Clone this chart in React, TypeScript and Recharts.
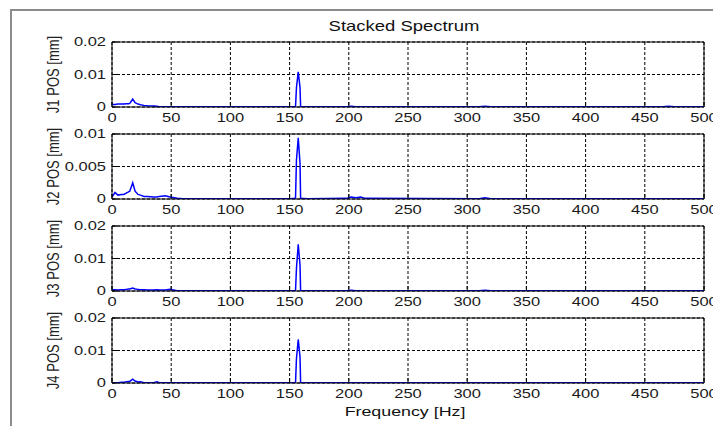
import React from 'react';
import { LineChart, Line, XAxis, YAxis, CartesianGrid, Label } from 'recharts';

const freq = [0, 2.5, 5, 8, 10, 12, 14, 15, 17.5, 19.5, 22, 24, 27, 30, 35, 38, 40, 45, 49, 55, 60, 150, 155, 155.8, 157.3, 158.8, 159.3, 165, 198, 202, 206, 210, 214, 310, 315, 320, 465, 470, 475, 500];

const j1 = [0.0008, 0.0008, 0.0009, 0.0009, 0.0009, 0.001, 0.001, 0.0011, 0.0024, 0.0013, 0.0009, 0.0007, 0.0005, 0.0004, 0.0003, 0.0002, 0.0001, 0.00005, 0.00005, 0.00005, 0.00005, 0.00005, 0.0001, 0.006, 0.0108, 0.006, 0.0001, 0.00005, 0.00005, 0.0002, 0.0001, 0.00005, 0.00005, 0.00005, 0.0002, 0.00005, 0.00005, 0.0002, 0.00005, 0.00005];
const j2 = [0.0003, 0.001, 0.0006, 0.0007, 0.0007, 0.0009, 0.0011, 0.0012, 0.0025, 0.0012, 0.0007, 0.0006, 0.0004, 0.0004, 0.0003, 0.0003, 0.0004, 0.0005, 0.0003, 0.0001, 0.00003, 0.00003, 0.0001, 0.006, 0.0094, 0.0055, 0.0001, 0.00003, 0.0001, 0.0003, 0.0002, 0.0003, 0.0001, 0.00003, 0.0002, 0.00003, 0.00003, 0.00003, 0.00003, 0.00003];
const j3 = [0.0004, 0.0004, 0.0003, 0.0004, 0.0004, 0.0005, 0.0006, 0.0006, 0.0009, 0.0006, 0.0005, 0.0004, 0.0004, 0.0003, 0.0003, 0.0004, 0.0003, 0.0003, 0.0005, 0.00005, 0.00005, 0.00005, 0.0001, 0.007, 0.0144, 0.008, 0.0001, 0.00005, 0.00005, 0.0002, 0.0001, 0.00005, 0.00005, 0.00005, 0.0002, 0.00005, 0.00005, 0.00005, 0.00005, 0.00005];
const j4 = [0.0001, 0.0001, 0.0001, 0.0002, 0.0002, 0.0004, 0.0005, 0.0005, 0.0012, 0.0006, 0.0003, 0.0004, 0.0001, 0.0001, 0.0001, 0.0004, 0.0001, 0.00005, 0.00005, 0.00005, 0.00005, 0.00005, 0.0001, 0.0075, 0.0134, 0.008, 0.0001, 0.00005, 0.00005, 0.00005, 0.00005, 0.00005, 0.00005, 0.00005, 0.00005, 0.00005, 0.00005, 0.00005, 0.00005, 0.00005];

const xTicks = [0, 50, 100, 150, 200, 250, 300, 350, 400, 450, 500];
const yTicksA = [0, 0.01, 0.02];
const yTicksB = [0, 0.005, 0.01];

const labels = ['J1 POS [mm]', 'J2 POS [mm]', 'J3 POS [mm]', 'J4 POS [mm]'];
const series = [j1, j2, j3, j4];
const yMax = [0.02, 0.01, 0.02, 0.02];
const yTicks = [yTicksA, yTicksB, yTicksA, yTicksA];
const titleText = 'Stacked Spectrum';
const xLabelText = 'Frequency [Hz]';

const W = 713;
const H = 426;
const plotTops = [42, 134, 226, 318];
const plotH = 65;
const FONT = '"Liberation Sans", Arial, sans-serif';
const SX = 1.32;

const XTick = (props: any) => {
  const { x, y, payload } = props;
  return (
    <g transform={`translate(${x},${y}) scale(${SX},1)`}>
      <text x={0} y={0} dy="0.71em" textAnchor="middle" fontSize={12.5} fill="#1a1a1a" fontFamily={FONT}>
        {payload.value}
      </text>
    </g>
  );
};

const YTick = (props: any) => {
  const { x, y, payload } = props;
  return (
    <g transform={`translate(${x},${y}) scale(${SX},1)`}>
      <text x={0} y={0} dy="0.355em" textAnchor="end" fontSize={12.5} fill="#1a1a1a" fontFamily={FONT}>
        {String(payload.value)}
      </text>
    </g>
  );
};

const makeYLabel = (text: string) => (props: any) => {
  const vb = props.viewBox;
  const cx = vb.x + 1;
  const cy = vb.y + vb.height / 2;
  return (
    <g transform={`translate(${cx},${cy}) scale(${SX},1) rotate(-90)`}>
      <text x={0} y={0} dy="0.36em" textAnchor="middle" fontSize={13} fill="#222" fontFamily={FONT}>
        {text}
      </text>
    </g>
  );
};

const TitleLabel = (props: any) => {
  const vb = props.viewBox;
  const cx = vb.x + vb.width / 2 - 4;
  return (
    <g transform={`translate(${cx},31) scale(${SX},1)`}>
      <text x={0} y={0} textAnchor="middle" fontSize={14} fill="#111" fontFamily={FONT}>
        {titleText}
      </text>
    </g>
  );
};

const XLabel = (props: any) => {
  const vb = props.viewBox;
  const cx = vb.x + vb.width / 2 - 3;
  return (
    <g transform={`translate(${cx},416) scale(${SX},1)`}>
      <text x={0} y={0} textAnchor="middle" fontSize={13.5} fill="#111" fontFamily={FONT}>
        {xLabelText}
      </text>
    </g>
  );
};

const Panel = ({ idx }: { idx: number }) => {
  const data = freq.map((f, i) => ({ f, v: series[idx][i] }));
  const top = plotTops[idx];
  const bottomMargin = H - (top + plotH) - 30;
  const max = yMax[idx];
  return (
    <div style={{ position: 'absolute', left: 0, top: 0 }}>
      <LineChart width={W} height={H} data={data} margin={{ top: top - 1, right: 8, bottom: bottomMargin, left: 52 }}>
        <CartesianGrid stroke="#000" strokeDasharray="3 2" xAxisId={0} yAxisId={0} />
        <XAxis
          xAxisId={0}
          dataKey="f"
          type="number"
          domain={[0, 500]}
          ticks={xTicks}
          interval={0}
          height={30}
          tickSize={-5}
          tickMargin={11}
          tick={<XTick />}
          axisLine={{ stroke: '#000' }}
          tickLine={{ stroke: '#000' }}
          allowDataOverflow
        >
          {idx === 3 ? <Label content={<XLabel />} /> : null}
        </XAxis>
        <XAxis
          xAxisId="t"
          orientation="top"
          dataKey="f"
          type="number"
          domain={[0, 500]}
          ticks={xTicks}
          interval={0}
          height={1}
          tickSize={-5}
          tick={false}
          axisLine={{ stroke: '#000' }}
          tickLine={{ stroke: '#000' }}
        >
          {idx === 0 ? <Label content={<TitleLabel />} /> : null}
        </XAxis>
        <YAxis
          yAxisId={0}
          type="number"
          domain={[0, max]}
          ticks={yTicks[idx]}
          interval={0}
          width={60}
          tickSize={-5}
          tickMargin={11}
          tick={<YTick />}
          axisLine={{ stroke: '#000' }}
          tickLine={{ stroke: '#000' }}
          allowDataOverflow
        >
          <Label content={makeYLabel(labels[idx])} />
        </YAxis>
        <YAxis
          yAxisId="r"
          orientation="right"
          type="number"
          domain={[0, max]}
          ticks={yTicks[idx]}
          interval={0}
          width={1}
          tickSize={-5}
          tick={false}
          axisLine={{ stroke: '#000' }}
          tickLine={{ stroke: '#000' }}
        />
        <Line
          xAxisId={0}
          yAxisId={0}
          type="linear"
          dataKey="v"
          stroke="#0000ff"
          strokeWidth={1.5}
          dot={false}
          isAnimationActive={false}
        />
      </LineChart>
    </div>
  );
};

export default function App() {
  return (
    <div style={{ position: 'absolute', left: 0, top: 0, width: W, height: H, background: '#fff', overflow: 'hidden' }}>
      <div
        style={{
          position: 'absolute',
          left: 10,
          top: 9,
          width: 720,
          height: 440,
          border: '2px solid #8c8c8c',
          boxSizing: 'border-box',
        }}
      />
      {[0, 1, 2, 3].map((i) => (
        <Panel key={i} idx={i} />
      ))}
    </div>
  );
}
